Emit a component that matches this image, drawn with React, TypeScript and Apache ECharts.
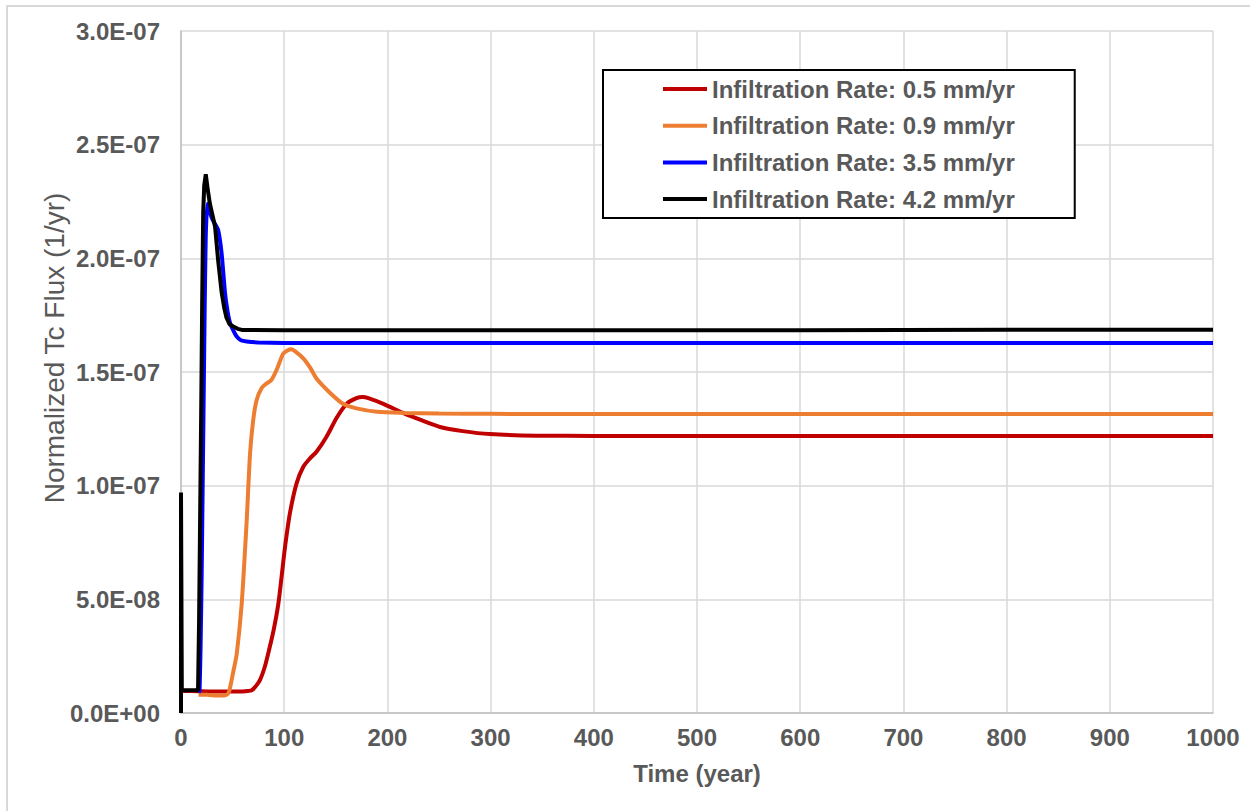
import React, { useEffect, useRef } from "react";
import * as echarts from "echarts";

// Normalized Tc flux (in units of 1E-07 per year) versus time (years)
const seriesNames = [
  "Infiltration Rate: 0.5 mm/yr",
  "Infiltration Rate: 0.9 mm/yr",
  "Infiltration Rate: 3.5 mm/yr",
  "Infiltration Rate: 4.2 mm/yr",
];
const seriesColors = ["#C00000", "#ED7D31", "#0000FF", "#000000"];
const seriesSmooth = [0.25, 0.25, 0.15, 0];

const years05 = [1, 10, 30, 50, 60, 65, 68.5, 72, 76.5, 81, 86, 90, 94.3, 97.5, 100.8, 105.6, 112, 118.5, 125, 131.5, 141, 151, 160.5, 170, 176, 181.5, 196, 215, 231.6, 251, 273, 299, 345, 400, 500, 600, 700, 800, 900, 1000];
const flux05 = [0.097, 0.097, 0.095, 0.095, 0.095, 0.097, 0.1, 0.115, 0.145, 0.2, 0.29, 0.37, 0.48, 0.6, 0.73, 0.88, 1.01, 1.083, 1.12, 1.15, 1.215, 1.3, 1.36, 1.385, 1.39, 1.385, 1.36, 1.32, 1.29, 1.258, 1.24, 1.227, 1.22, 1.219, 1.219, 1.219, 1.219, 1.219, 1.219, 1.219];

const years09 = [17, 25, 35, 42, 45.6, 47, 50.6, 54, 58.8, 63.7, 66.9, 70, 73.3, 78.2, 83, 87.6, 92.7, 99, 104, 107, 111, 118.5, 125, 131.5, 144, 157, 170, 190, 215, 250, 300, 400, 500, 600, 700, 800, 900, 1000];
const flux09 = [0.08, 0.08, 0.077, 0.077, 0.085, 0.1, 0.18, 0.26, 0.48, 0.85, 1.14, 1.29, 1.377, 1.43, 1.45, 1.465, 1.51, 1.58, 1.597, 1.6, 1.59, 1.56, 1.52, 1.47, 1.41, 1.36, 1.34, 1.325, 1.32, 1.317, 1.316, 1.315, 1.315, 1.315, 1.315, 1.315, 1.315, 1.315];

const years35 = [17, 18, 19, 20, 21, 22, 23, 24, 25.5, 27.5, 29.7, 33, 36, 39.4, 42.6, 45, 47.5, 51, 54, 58, 63.7, 75, 100, 200, 300, 400, 500, 600, 700, 800, 900, 1000];
const flux35 = [0.09, 0.1, 0.3, 0.6, 1.0, 1.4, 1.8, 2.1, 2.24, 2.21, 2.18, 2.15, 2.125, 2.02, 1.85, 1.77, 1.716, 1.68, 1.656, 1.64, 1.634, 1.63, 1.628, 1.628, 1.628, 1.628, 1.628, 1.628, 1.628, 1.628, 1.628, 1.628];

const years42 = [0, 0, 0.8, 5, 10, 16.5, 17.5, 18.5, 19.5, 20.5, 21.5, 22.5, 24, 26, 28, 30.5, 33, 36, 39.4, 42, 44, 47, 50.7, 55, 59, 100, 200, 300, 400, 500, 600, 700, 800, 900, 1000];
const flux42 = [0, 0.97, 0.1, 0.1, 0.1, 0.1, 0.4, 0.85, 1.3, 1.8, 2.2, 2.32, 2.37, 2.3, 2.24, 2.19, 2.14, 1.99, 1.85, 1.78, 1.74, 1.71, 1.7, 1.69, 1.685, 1.684, 1.684, 1.684, 1.684, 1.684, 1.684, 1.685, 1.686, 1.686, 1.686];

const xTicks = [0, 100, 200, 300, 400, 500, 600, 700, 800, 900, 1000];
const yTicks = [0, 5e-8, 1e-7, 1.5e-7, 2e-7, 2.5e-7, 3e-7];

const FONT = "'Liberation Sans', Arial, Helvetica, sans-serif";
const TEXT_GRAY = "#595959";

function toPairs(xs: number[], ys: number[]) {
  return xs.map((x, i) => [x, ys[i] * 1e-7]);
}

// Excel-style scientific label, e.g. 1.5E-07
function sci(v: number): string {
  if (v === 0) return "0.0E+00";
  let exp = Math.floor(Math.log10(Math.abs(v)) + 1e-9);
  let mant = v / Math.pow(10, exp);
  if (Math.round(mant * 10) / 10 >= 10) {
    exp += 1;
    mant = v / Math.pow(10, exp);
  }
  const sign = exp < 0 ? "-" : "+";
  const e = String(Math.abs(exp)).padStart(2, "0");
  return `${mant.toFixed(1)}E${sign}${e}`;
}

export default function App() {
  const ref = useRef<HTMLDivElement>(null);

  useEffect(() => {
    if (!ref.current) return;
    const chart = echarts.init(ref.current, undefined, { renderer: "svg" });
    const allData = [
      toPairs(years05, flux05),
      toPairs(years09, flux09),
      toPairs(years35, flux35),
      toPairs(years42, flux42),
    ];

    chart.setOption({
      animation: false,
      backgroundColor: "#ffffff",
      grid: { left: 181, right: 37, top: 31, bottom: 98, containLabel: false },
      xAxis: {
        type: "value",
        min: xTicks[0],
        max: xTicks[xTicks.length - 1],
        interval: xTicks[1] - xTicks[0],
        name: "Time (year)",
        nameLocation: "middle",
        nameGap: 48,
        nameTextStyle: { fontFamily: FONT, fontSize: 24, fontWeight: "bold", color: TEXT_GRAY },
        axisLine: { show: true, onZero: false, lineStyle: { color: "#bfbfbf", width: 1.5 } },
        axisTick: { show: false },
        axisLabel: {
          fontFamily: FONT,
          fontSize: 24,
          fontWeight: "bold",
          color: TEXT_GRAY,
          margin: 12,
          formatter: (v: number) => String(v),
        },
        splitLine: { show: true, lineStyle: { color: "#d9d9d9", width: 1.5 } },
      },
      yAxis: {
        type: "value",
        min: yTicks[0],
        max: yTicks[yTicks.length - 1],
        interval: yTicks[1] - yTicks[0],
        axisLine: { show: true, lineStyle: { color: "#bfbfbf", width: 1.5 } },
        axisTick: { show: false },
        axisLabel: {
          fontFamily: FONT,
          fontSize: 24,
          fontWeight: "bold",
          color: TEXT_GRAY,
          margin: 21,
          formatter: (v: number) => sci(v),
        },
        splitLine: { show: true, lineStyle: { color: "#d9d9d9", width: 1.5 } },
      },
      legend: {
        orient: "vertical",
        left: 603,
        top: 70,
        align: "left",
        icon: "rect",
        itemWidth: 44,
        itemHeight: 4,
        itemGap: 12.7,
        padding: [7, 60, 7, 60],
        borderColor: "#000000",
        borderWidth: 2,
        backgroundColor: "#ffffff",
        data: seriesNames,
        textStyle: { fontFamily: FONT, fontSize: 24, fontWeight: "bold", color: TEXT_GRAY, lineHeight: 24 },
      },
      series: seriesNames.map((name, i) => ({
        name,
        type: "line",
        data: allData[i],
        showSymbol: false,
        symbol: "none",
        clip: false,
        smooth: seriesSmooth[i],
        color: seriesColors[i],
        lineStyle: { color: seriesColors[i], width: 4 },
        z: 2 + i,
      })),
      graphic: [
        {
          type: "polyline",
          shape: { points: [[7, 830], [7, 6], [1270, 6]] },
          style: { stroke: "#d9d9d9", lineWidth: 2, fill: "none" },
          silent: true,
        },
        {
          type: "text",
          x: 54,
          y: 348,
          rotation: Math.PI / 2,
          style: {
            text: "Normalized Tc Flux (1/yr)",
            fontFamily: FONT,
            fontSize: 28,
            fill: TEXT_GRAY,
            align: "center",
            verticalAlign: "middle",
          },
        },
      ],
    });

    return () => {
      chart.dispose();
    };
  }, []);

  return (
    <div
      ref={ref}
      style={{ position: "absolute", left: 0, top: 0, width: 1250, height: 811, background: "#ffffff" }}
    />
  );
}
